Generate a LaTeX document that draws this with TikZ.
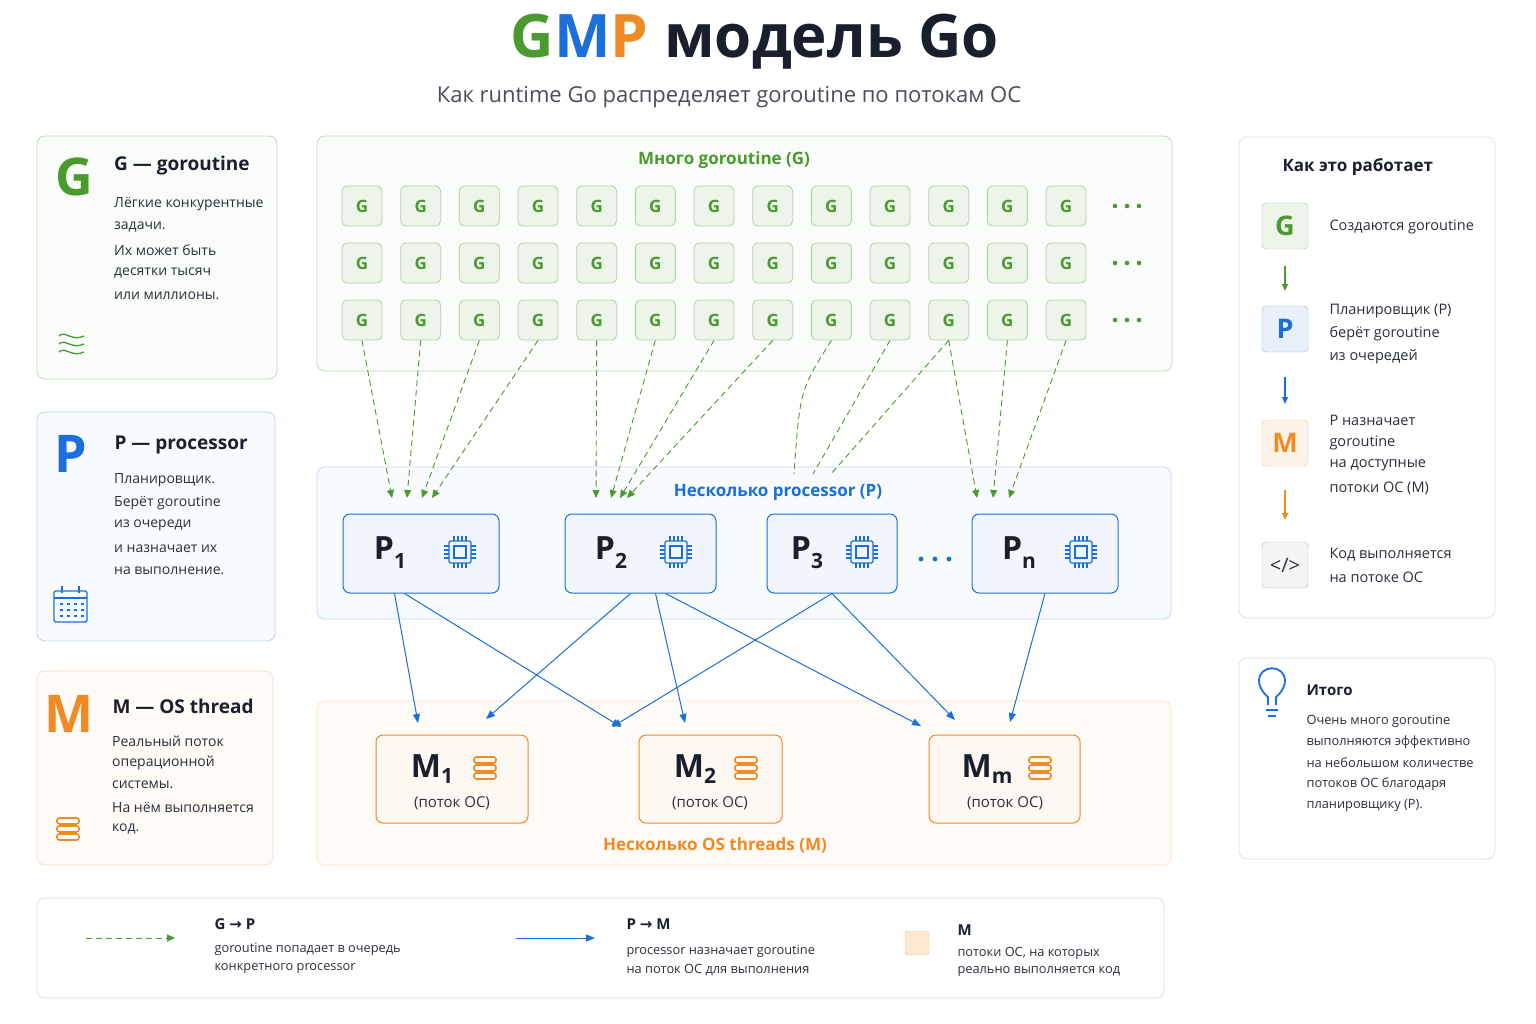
\documentclass[tikz,border=0pt]{standalone}
\usepackage{fontspec}
\setmainfont{Open Sans}
\newfontfamily\dv{DejaVu Sans}
\usetikzlibrary{arrows.meta}
\definecolor{gg}{HTML}{4A9A2E}
\definecolor{bb}{HTML}{1A6FD8}
\definecolor{oo}{HTML}{F08A24}
\definecolor{dk}{HTML}{1A1F2E}
\definecolor{tx}{HTML}{2A2F3A}
\newcommand{\fs}[1]{\fontsize{#1}{#1}\selectfont}
\tikzset{
 card/.style={rounded corners=8pt, line width=0.8pt},
 gbox/.style={draw=gg!45, fill=gg!10, rounded corners=5pt, minimum width=40pt, minimum height=40pt, text=gg, font=\fs{17}\bfseries, line width=0.8pt},
 pbox/.style={draw=bb, fill=bb!6, rounded corners=7pt, line width=1pt},
 mbox/.style={draw=oo, fill=oo!6, rounded corners=7pt, line width=1pt},
 ga/.style={gg, dashed, dash pattern=on 6pt off 4pt, line width=0.9pt, -{Triangle[length=8pt,width=7pt]}},
 gl/.style={gg, dash pattern=on 6pt off 4pt, line width=0.9pt},
 ba/.style={bb, line width=1pt, -{Triangle[length=9pt,width=7pt]}},
 body/.style={anchor=west, text=tx, font=\fs{14}, inner sep=1pt},
 pics/chip/.style={code={
   \draw[bb, line width=1.3pt, rounded corners=1.5pt] (-11,-11) rectangle (11,11);
   \draw[bb, line width=1.3pt] (-6,-6) rectangle (6,6);
   \foreach \t in {-6,-2,2,6}{\draw[bb,line width=1.1pt] (\t,-11)--(\t,-16) (\t,11)--(\t,16) (-11,\t)--(-16,\t) (11,\t)--(16,\t);}
 }},
 pics/stack/.style={code={
   \foreach \t in {-8,0,8}{\draw[oo, line width=1.6pt, rounded corners=2.5pt] (-11,\t-3) rectangle (11,\t+3);}
 }},
}
\begin{document}
\begin{tikzpicture}[x=1pt,y=-1pt]
\useasboundingbox (0,0) rectangle (1536,1024);
\fill[white] (0,0) rectangle (1536,1024);
% title
\node (title) at (755,42) {\fs{60}\bfseries\textcolor{gg}{G}\textcolor{bb}{M}\textcolor{oo}{P}\ \textcolor{dk}{модель Go}};
\node[text=tx!85] (sub) at (729,97) {\fs{22}Как runtime Go распределяет goroutine по потокам ОС};
% left cards
\draw[card, draw=gg!35, fill=gg!3] (37,136) rectangle (277,379);
\node[text=gg, font=\fs{52}\bfseries] (gbig) at (74,177) {G};
\node[anchor=west, text=dk, font=\fs{19}\bfseries, inner sep=1pt] (gt) at (113,166) {G — goroutine};
\foreach \s [count=\i] in {Лёгкие конкурентные,задачи.,Их может быть,десятки тысяч,или миллионы.}
  \node[body] (gl\i) at (113,181+23*\i) {\s};
\foreach \dy in {-8,0,8}\draw[gg, line width=1.3pt] (59,344+\dy) .. controls (65,338+\dy) and (72,350+\dy) .. (84,344+\dy);
\draw[card, draw=bb!30, fill=bb!3] (37,412) rectangle (275,641);
\node[text=bb, font=\fs{52}\bfseries] (pbig) at (71,454) {P};
\node[anchor=west, text=dk, font=\fs{19}\bfseries] (pt) at (111,445) {P — processor};
\foreach \s [count=\i] in {Планировщик.,Берёт goroutine,из очереди,и назначает их,на выполнение.}
  \node[body] (pl\i) at (113,458+22.6*\i) {\s};
\draw[bb, line width=1.3pt, rounded corners=2pt] (54,591) rectangle (87,622);
\draw[bb, line width=1.3pt] (54,598)--(87,598) (62,586)--(62,593) (79,586)--(79,593);
\foreach \xx in {61,68,75,82}\foreach \yy in {604,610,616}\fill[bb] (\xx-1.5,\yy-1) rectangle (\xx+1.5,\yy+1);
\draw[card, draw=oo!30, fill=oo!4] (37,671) rectangle (273,865);
\node[text=oo, font=\fs{52}\bfseries] (mbig) at (69,714) {M};
\node[anchor=west, text=dk, font=\fs{19}\bfseries] (mt) at (109,706) {M — OS thread};
\foreach \s [count=\i] in {Реальный поток,операционной,системы.,На нём выполняется,код.}
  \node[body] (ml\i) at (111,719+22*\i) {\s};
\pic at (68,829) {stack};
% containers
\draw[card, draw=gg!35, fill=gg!3] (317,136) rectangle (1172,371);
\node[text=gg, font=\fs{17}\bfseries] (glab) at (724,160) {Много goroutine (G)};
\draw[card, draw=bb!25, fill=bb!3] (317,467) rectangle (1171,619);
\node[text=bb, font=\fs{17}\bfseries] (plab) at (778,492) {Несколько processor (P)};
\draw[card, draw=oo!25, fill=oo!4] (317,701) rectangle (1171,865);
\node[text=oo, font=\fs{17}\bfseries] (mlab) at (715,845) {Несколько OS threads (M)};
% G grid
\foreach \r/\y in {1/206,2/263,3/320}{
 \foreach \c in {1,...,13}{\node[gbox] (g\r-\c) at ({362+58.67*(\c-1)},\y) {G};}
 \foreach \d in {-12,0,12}\fill[gg] (1127+\d,\y) circle (2.3pt);
}
% P boxes
\node[pbox, minimum width=156pt, minimum height=79pt] (p1) at (421,553.5) {};
\node[pbox, minimum width=151pt, minimum height=79pt] (p2) at (640.5,553.5) {};
\node[pbox, minimum width=130pt, minimum height=79pt] (p3) at (832,553.5) {};
\node[pbox, minimum width=146pt, minimum height=79pt] (pn) at (1045,553.5) {};
\foreach \n/\x/\s/\cx in {p1/390/1/460, p2/611/2/676, p3/807/3/862, pn/1019/n/1081}{
 \node[text=dk, font=\fs{32}\bfseries] (\n t) at (\x,553) {P\raisebox{-9pt}{\fs{21}\s}};
 \pic at (\cx,552) {chip};
}
\foreach \d in {-14,0,14}\fill[bb] (935+\d,559) circle (2.4pt);
% M boxes
\node[mbox, minimum width=152pt, minimum height=88pt] (m1) at (452,779) {};
\node[mbox, minimum width=143pt, minimum height=88pt] (m2) at (710.5,779) {};
\node[mbox, minimum width=151pt, minimum height=88pt] (mm) at (1004.5,779) {};
\foreach \n/\x/\s/\cx/\c in {m1/432/1/485/452, m2/695/2/746/710, mm/987/m/1040/1005}{
 \node[text=dk, font=\fs{32}\bfseries] (\n t) at (\x,769) {M\raisebox{-6pt}{\fs{21}\s}};
 \pic at (\cx,768) {stack};
 \node[text=tx, font=\fs{15}] (\n s) at (\c,803) {(поток ОС)};
}
% G -> P dashed
\foreach \c/\tx in {1/392,2/407,3/422,4/432,5/596,6/611,7/620,8/627,11/977,12/993,13/1009}
 \draw[ga] (g3-\c.south) -- (\tx,498);
\coordinate (e9) at (794,474); \coordinate (e10) at (813,474); \coordinate (e11) at (831,474);
\draw[gl] (g3-9.south) .. controls (800,390) .. (e9);
\draw[gl] (g3-10.south) -- (e10);
\draw[gl] (g3-11.south) -- (e11);
% P -> M
\draw[ba] (p1.south west)++(52,0) -- (418,723);
\draw[ba] (p1.south west)++(62,0) -- (621,727);
\draw[ba] (p2.south west)++(66,0) -- (486,719);
\draw[ba] (p2.south west)++(91,0) -- (685,723);
\draw[ba] (p2.south west)++(101,0) -- (921,726);
\draw[ba] (p3.south) -- (612,727);
\draw[ba] (p3.south) -- (955,720);
\draw[ba] (pn.south) -- (1010,722);
% right panel
\draw[card, draw=black!12, fill=white] (1239,137) rectangle (1495,618);
\node[anchor=west, text=dk, font=\fs{17}\bfseries] (how) at (1279,167) {Как это работает};
\node[draw=gg!50, fill=gg!10, rounded corners=4pt, minimum size=46pt, text=gg, font=\fs{27}\bfseries] (ig) at (1285,226) {G};
\node[draw=bb!50, fill=bb!10, rounded corners=4pt, minimum size=46pt, text=bb, font=\fs{27}\bfseries] (ip) at (1285,329) {P};
\node[draw=oo!60, fill=oo!10, rounded corners=4pt, minimum size=46pt, text=oo, font=\fs{27}\bfseries] (im) at (1285,443) {M};
\node[draw=black!30, fill=black!4, rounded corners=4pt, minimum size=46pt, text=tx, font=\fs{20}] (ic) at (1285,565) {</>};
\draw[gg, line width=1.2pt, -{Triangle[length=7pt,width=6pt]}] (1285,266) -- (1285,291);
\draw[bb, line width=1.2pt, -{Triangle[length=7pt,width=6pt]}] (1285,377) -- (1285,404);
\draw[oo, line width=1.2pt, -{Triangle[length=7pt,width=6pt]}] (1285,490) -- (1285,520);
\tikzset{rt/.style={anchor=west, text=tx, font=\fs{14.5}}}
\node[rt] (r1) at (1326,227) {Создаются goroutine};
\foreach \s [count=\i] in {Планировщик (P),берёт goroutine,из очередей} \node[rt] (r2\i) at (1326,289+22.5*\i) {\s};
\foreach \s [count=\i] in {P назначает,goroutine,на доступные,потоки ОС (M)} \node[rt] (r3\i) at (1326,398+22.5*\i) {\s};
\foreach \s [count=\i] in {Код выполняется,на потоке ОС} \node[rt] (r4\i) at (1326,533+22*\i) {\s};
\draw[card, draw=black!12, fill=white] (1239,658) rectangle (1495,859);
\draw[bb, line width=1.8pt] (1268,705) -- (1268,697) .. controls (1262,692) and (1259,686) .. (1259,681) .. controls (1259,664) and (1285,664) .. (1285,681) .. controls (1285,686) and (1282,692) .. (1276,697) -- (1276,705);
\draw[bb, line width=1.6pt] (1266,710)--(1278,710) (1268,716)--(1276,716);
\node[anchor=west, text=dk, font=\fs{15}\bfseries] (itog) at (1303,690) {Итого};
\foreach \s [count=\i] in {Очень много goroutine,выполняются эффективно,на небольшом количестве,потоков ОС благодаря,планировщику (P).}
  \node[anchor=west, text=tx, font=\fs{12.8}] (it\i) at (1303,700+21*\i) {\s};
% legend
\draw[card, draw=black!12, fill=white] (37,898) rectangle (1164,998);
\coordinate (la1) at (86,938); \coordinate (la2) at (175,938);
\draw[ga] (la1) -- (la2);
\node[anchor=west, text=dk, font=\fs{15}\bfseries] (lg) at (211,924) {G {\dv →} P};
\node[anchor=west, text=tx, font=\fs{12.8}] (lg1) at (211,949) {goroutine попадает в очередь};
\node[anchor=west, text=tx, font=\fs{12.8}] (lg2) at (211,969) {конкретного processor};
\coordinate (lb1) at (516,938); \coordinate (lb2) at (595,938);
\draw[ba] (lb1) -- (lb2);
\node[anchor=west, text=dk, font=\fs{15}\bfseries] (lp) at (623,924) {P {\dv →} M};
\node[anchor=west, text=tx, font=\fs{12.8}] (lp1) at (623,951) {processor назначает goroutine};
\node[anchor=west, text=tx, font=\fs{12.8}] (lp2) at (623,970) {на поток ОС для выполнения};
\node[draw=oo!60, fill=oo!20, rounded corners=3pt, minimum size=24pt] (lsq) at (917,943) {};
\node[anchor=west, text=dk, font=\fs{15}\bfseries] (lm) at (954,930) {M};
\node[anchor=west, text=tx, font=\fs{12.8}] (lm1) at (954,953) {потоки ОС, на которых};
\node[anchor=west, text=tx, font=\fs{12.8}] (lm2) at (954,972) {реально выполняется код};
\end{tikzpicture}
\end{document}
